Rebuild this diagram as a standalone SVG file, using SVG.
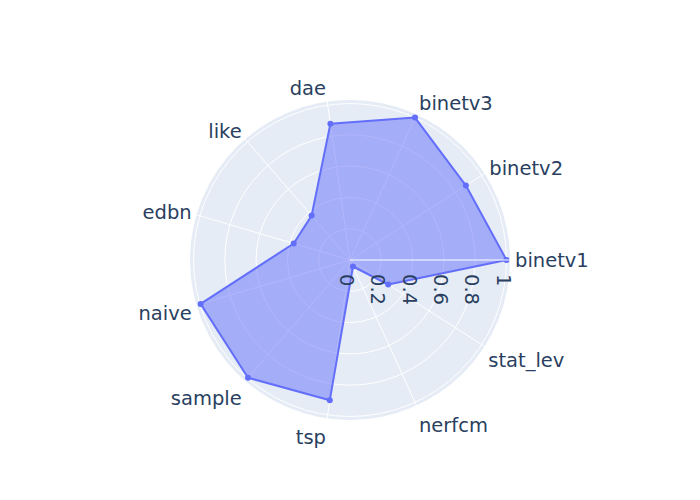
<svg xmlns="http://www.w3.org/2000/svg" width="700" height="500" viewBox="0 0 700 500">
<style>
.grid{fill:none;stroke:#ffffff;stroke-width:1}
.lbl{font-family:"DejaVu Sans","Open Sans",Verdana,sans-serif;font-size:19.5px;fill:#2a3f5f}
.tick{font-family:"DejaVu Sans","Open Sans",Verdana,sans-serif;font-size:19.5px;fill:#2a3f5f}
.pt{fill:#636efa}
</style>
<rect x="0" y="0" width="700" height="500" fill="#ffffff"/>
<g id="polar-bg">
<circle cx="350" cy="260" r="160" fill="#e5ecf6"/>
</g>
<g id="grid">
<circle class="grid" cx="350" cy="260" r="31.3"/>
<circle class="grid" cx="350" cy="260" r="62.6"/>
<circle class="grid" cx="350" cy="260" r="93.9"/>
<circle class="grid" cx="350" cy="260" r="125.2"/>
<circle class="grid" cx="350" cy="260" r="156.5"/>
<path class="grid" d="M350 260L484.6 173.5M350 260L416.5 114.5M350 260L327.2 101.6M350 260L245.2 139.1M350 260L196.5 214.9M350 260L196.5 305.1M350 260L245.2 380.9M350 260L327.2 418.4M350 260L416.5 405.5M350 260L484.6 346.5"/>
</g>
<g id="trace">
<polygon points="506.5,260 465.9,185.6 415,117.6 330.4,123.7 311.6,215.6 293.7,243.5 200.6,303.9 248,377.7 329.8,400.2 353,266.5 388.2,284.5" fill="rgba(99,110,250,0.5)" stroke="#636efa" stroke-width="2" stroke-linejoin="round"/>
<circle class="pt" cx="506.5" cy="260" r="3"/>
<circle class="pt" cx="465.9" cy="185.6" r="3"/>
<circle class="pt" cx="415" cy="117.6" r="3"/>
<circle class="pt" cx="330.4" cy="123.7" r="3"/>
<circle class="pt" cx="311.6" cy="215.6" r="3"/>
<circle class="pt" cx="293.7" cy="243.5" r="3"/>
<circle class="pt" cx="200.6" cy="303.9" r="3"/>
<circle class="pt" cx="248" cy="377.7" r="3"/>
<circle class="pt" cx="329.8" cy="400.2" r="3"/>
<circle class="pt" cx="353" cy="266.5" r="3"/>
<circle class="pt" cx="388.2" cy="284.5" r="3"/>
</g>
<g id="radial-axis">
<line x1="350" y1="260" x2="510" y2="260" stroke="#ffffff" stroke-width="1"/>
<text class="tick" transform="translate(340,274) rotate(90)">0</text>
<text class="tick" transform="translate(371.3,274) rotate(90)">0.2</text>
<text class="tick" transform="translate(402.6,274) rotate(90)">0.4</text>
<text class="tick" transform="translate(433.9,274) rotate(90)">0.6</text>
<text class="tick" transform="translate(465.2,274) rotate(90)">0.8</text>
<text class="tick" transform="translate(496.5,274) rotate(90)">1</text>
</g>
<g id="angular-labels">
<text class="lbl" x="515" y="266.7">binetv1</text>
<text class="lbl" x="489.3" y="175.3">binetv2</text>
<text class="lbl" x="419" y="110.3">binetv3</text>
<text class="lbl" x="326" y="95" text-anchor="end">dae</text>
<text class="lbl" x="241.7" y="137.7" text-anchor="end">like</text>
<text class="lbl" x="191.7" y="219.3" text-anchor="end">edbn</text>
<text class="lbl" x="191.7" y="320" text-anchor="end">naive</text>
<text class="lbl" x="241.7" y="405" text-anchor="end">sample</text>
<text class="lbl" x="326" y="444.3" text-anchor="end">tsp</text>
<text class="lbl" x="419" y="431.7">nerfcm</text>
<text class="lbl" x="488.3" y="366.7">stat_lev</text>
</g>
</svg>
